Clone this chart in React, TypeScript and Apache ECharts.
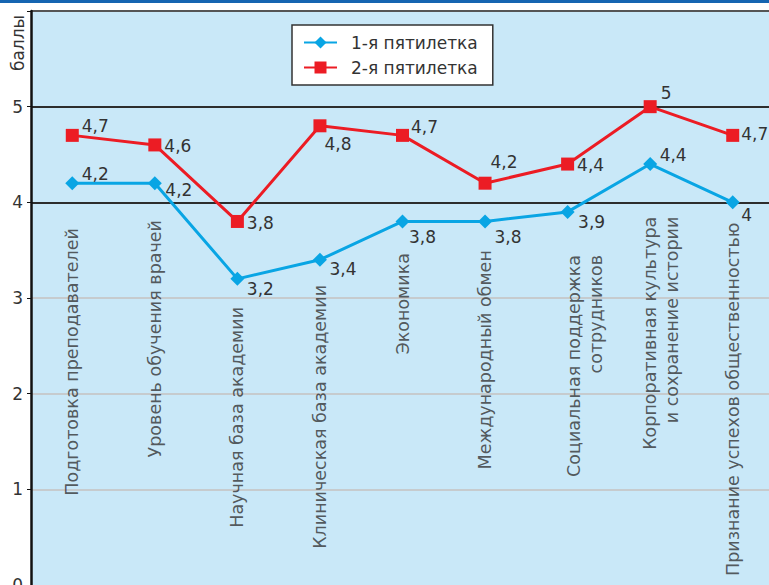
import React, { useEffect, useRef } from "react";
import * as echarts from "echarts";

const categories = [
  "Подготовка преподавателей",
  "Уровень обучения врачей",
  "Научная база академии",
  "Клиническая база академии",
  "Экономика",
  "Международный обмен",
  "Социальная поддержка\nсотрудников",
  "Корпоративная культура\nи сохранение истории",
  "Признание успехов общественностью",
];
const seriesNames = ["1-я пятилетка", "2-я пятилетка"];
const firstPeriod = [4.2, 4.2, 3.2, 3.4, 3.8, 3.8, 3.9, 4.4, 4.0];
const secondPeriod = [4.7, 4.6, 3.8, 4.8, 4.7, 4.2, 4.4, 5.0, 4.7];
const yTicks = [0, 1, 2, 3, 4, 5];
const yAxisName = "баллы";

// layout: where each category caption starts (axis units), and label offsets (px)
const captionTop = [3.73, 3.815, 2.906, 3.136, 3.47, 3.5, 3.45, 3.85, 3.79];
const captionShift = [0, 0, 0, 0, 0, 0, 17, 11, 0];
const offs1 = [[23, -9], [24, 7], [23, 10], [23, 9], [20, 16], [23, 16], [24, 10], [23, -9], [14, 13]];
const offs2 = [[23, -9], [23, 1], [23, 2], [18, 18], [22, -8], [19, -21], [23, 1], [16, -14], [22, -1]];

const FONT = "DejaVu Sans";
const TXT = "#333333";
const BLUE = "#09a5e4";
const RED = "#ec1c24";

const fmt = (v: number) => String(v).replace(".", ",");

export default function App() {
  const ref = useRef<HTMLDivElement>(null);
  useEffect(() => {
    if (!ref.current) return;
    const chart = echarts.init(ref.current, undefined, { renderer: "svg" });
    const mkData = (vals: number[], offs: number[][]) =>
      vals.map((v, i) => ({
        value: v,
        label: { offset: offs[i] },
      }));
    chart.setOption({
      animation: false,
      backgroundColor: "#ffffff",
      textStyle: { fontFamily: FONT },
      grid: {
        left: 31,
        right: 6,
        top: 11,
        bottom: 15,
        show: true,
        backgroundColor: "#c9e8f8",
        borderWidth: 0,
      },
      legend: {
        data: seriesNames,
        orient: "vertical",
        left: 292,
        top: 25,
        backgroundColor: "#ffffff",
        borderColor: "#333333",
        borderWidth: 1.5,
        borderRadius: 0,
        padding: [9, 15, 9, 11],
        itemWidth: 33,
        itemHeight: 15,
        itemGap: 8,
        textStyle: { fontSize: 17, color: TXT, fontFamily: FONT, padding: [0, 0, 0, 9] },
      },
      xAxis: {
        type: "category",
        data: categories,
        boundaryGap: true,
        axisLine: { show: false },
        axisTick: { show: false },
        axisLabel: { show: false },
        splitLine: { show: false },
      },
      yAxis: {
        type: "value",
        min: 0,
        max: 6,
        interval: 1,
        axisLine: { show: true, lineStyle: { color: "#111111", width: 2.5 } },
        axisTick: { show: true, length: 4, lineStyle: { color: "#111111", width: 1 } },
        axisLabel: {
          fontSize: 17,
          color: TXT,
          fontFamily: FONT,
          margin: 8,
          formatter: (v: number) => (yTicks.includes(v) ? String(v) : ""),
        },
        splitLine: {
          show: true,
          lineStyle: {
            color: ["#c9e8f8", "#c6cbce", "#c6cbce", "#c6cbce", "#2d2d2d", "#2d2d2d", "#555555"],
            width: 2,
          },
        },
      },
      graphic: [
        { type: "rect", shape: { x: 0, y: 0, width: 800, height: 3 }, style: { fill: "#1565b1" } },
        {
          type: "text",
          x: 18,
          y: 15,
          rotation: Math.PI / 2,
          style: {
            text: yAxisName,
            fontSize: 17,
            fontFamily: FONT,
            fill: TXT,
            align: "right",
            verticalAlign: "middle",
          },
        },
      ],
      series: [
        {
          name: seriesNames[0],
          type: "line",
          data: mkData(firstPeriod, offs1),
          symbol: "diamond",
          symbolSize: 14,
          itemStyle: { color: BLUE },
          lineStyle: { color: BLUE, width: 3 },
          label: {
            show: true,
            position: "inside",
            formatter: (p: any) => fmt(p.value),
            fontSize: 17,
            color: TXT,
            fontFamily: FONT,
          },
          z: 3,
        },
        {
          name: seriesNames[1],
          type: "line",
          data: mkData(secondPeriod, offs2),
          symbol: "rect",
          symbolSize: 13,
          itemStyle: { color: RED },
          lineStyle: { color: RED, width: 3 },
          label: {
            show: true,
            position: "inside",
            formatter: (p: any) => fmt(p.value),
            fontSize: 17,
            color: TXT,
            fontFamily: FONT,
          },
          z: 3,
        },
        {
          name: "captions",
          type: "scatter",
          silent: true,
          symbolSize: 1,
          itemStyle: { color: "transparent" },
          data: captionTop.map((v, i) => ({
            value: v,
            label: { offset: [0, captionShift[i]] },
          })),
          label: {
            show: true,
            position: "inside",
            rotate: 90,
            align: "right",
            verticalAlign: "middle",
            formatter: (p: any) => categories[p.dataIndex],
            fontSize: 17.5,
            lineHeight: 22,
            color: TXT,
            fontFamily: FONT,
          },
          z: 1,
        },
      ],
    });
    return () => chart.dispose();
  }, []);
  return (
    <div
      ref={ref}
      style={{ position: "absolute", left: 0, top: 0, width: 780, height: 600 }}
    />
  );
}
